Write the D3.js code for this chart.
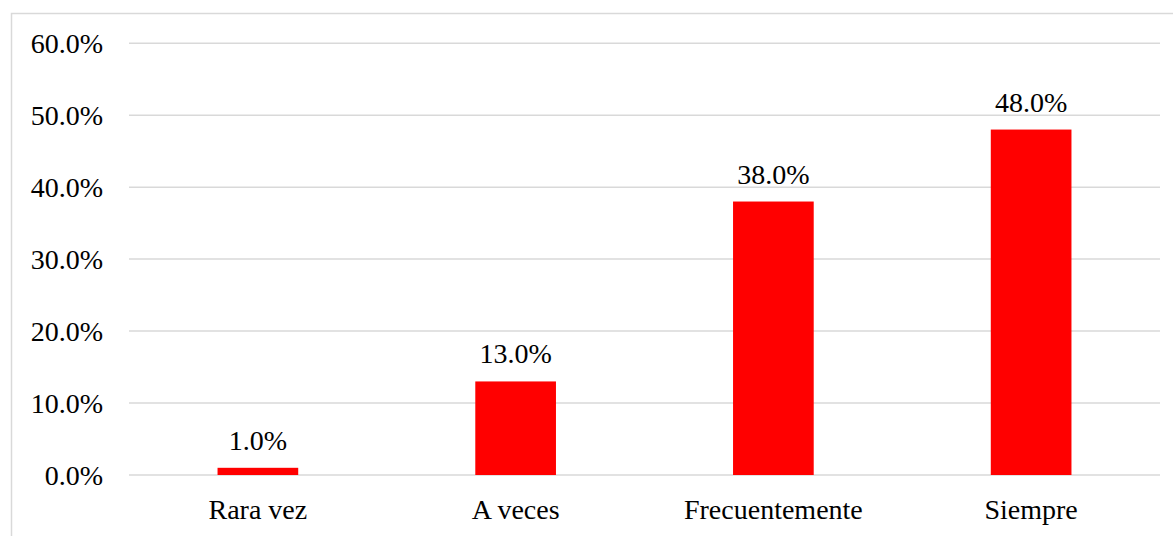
<!DOCTYPE html>
<html>
<head>
<meta charset="utf-8">
<script src="https://cdn.jsdelivr.net/npm/d3@7"></script>
<style>
  html, body { margin: 0; padding: 0; background: #fff; }
  svg { display: block; }
  svg text { font-family: "Liberation Serif", "Times New Roman", Times, serif !important; }
</style>
</head>
<body>
<svg id="chart" width="1173" height="536" font-family="Liberation Serif" font-size="28"></svg>
<script>
// Response frequency shares
const categories = ["Rara vez", "A veces", "Frecuentemente", "Siempre"];
const values = [1.0, 13.0, 38.0, 48.0];
const yTicks = [0, 10, 20, 30, 40, 50, 60];

const W = 1173, H = 536;
const FONT = "Liberation Serif";
const plot = { left: 129, right: 1160, top: 43.2, bottom: 475 };

const svg = d3.select("#chart");

// serif text everywhere
function serif(sel) {
  sel.attr("font-family", FONT)
    .style("font-family", "'Liberation Serif', 'Times New Roman', Times, serif", "important")
    .style("font-size", "28px");
}

// chart frame
svg.append("rect")
  .attr("x", 11.5).attr("y", 13.5)
  .attr("width", W).attr("height", H)
  .attr("fill", "none").attr("stroke", "#d9d9d9").attr("stroke-width", 1.5);

const x = d3.scaleBand().domain(categories).range([plot.left, plot.right]).padding(0);
const y = d3.scaleLinear().domain([0, 60]).range([plot.bottom, plot.top]);
const barW = x.bandwidth() * 0.313;

// gridlines
svg.append("g")
  .selectAll("line").data(yTicks).join("line")
  .attr("x1", plot.left).attr("x2", plot.right)
  .attr("y1", d => y(d)).attr("y2", d => y(d))
  .attr("stroke", "#d9d9d9").attr("stroke-width", 1.5);

// y axis labels
const yAxis = d3.axisLeft(y).tickValues(yTicks).tickSize(0).tickPadding(26)
  .tickFormat(d => d.toFixed(1) + "%");
const gy = svg.append("g").attr("transform", `translate(${plot.left},0)`).call(yAxis);
gy.attr("font-family", FONT).attr("font-size", 28);
gy.select(".domain").remove();
gy.selectAll("text").attr("fill", "#000").attr("dy", "0.33em").call(serif);

// bars
svg.append("g")
  .selectAll("rect").data(categories).join("rect")
  .attr("x", d => x(d) + x.bandwidth() / 2 - barW / 2)
  .attr("width", barW)
  .attr("y", (d, i) => y(values[i]))
  .attr("height", (d, i) => y(0) - y(values[i]))
  .attr("fill", "#ff0000");

// value labels
svg.append("g")
  .selectAll("text").data(categories).join("text")
  .attr("x", d => x(d) + x.bandwidth() / 2)
  .attr("y", (d, i) => y(values[i]) - 18)
  .attr("text-anchor", "middle")
  .attr("fill", "#000")
  .call(serif)
  .text((d, i) => values[i].toFixed(1) + "%");

// category axis
const xAxis = d3.axisBottom(x).tickSize(0).tickPadding(0);
const gx = svg.append("g").attr("transform", `translate(0,${plot.bottom})`).call(xAxis);
gx.attr("font-family", FONT).attr("font-size", 28);
gx.select(".domain").remove();
gx.selectAll("text").attr("fill", "#000").attr("dy", null).attr("y", 44).call(serif);
</script>
</body>
</html>
